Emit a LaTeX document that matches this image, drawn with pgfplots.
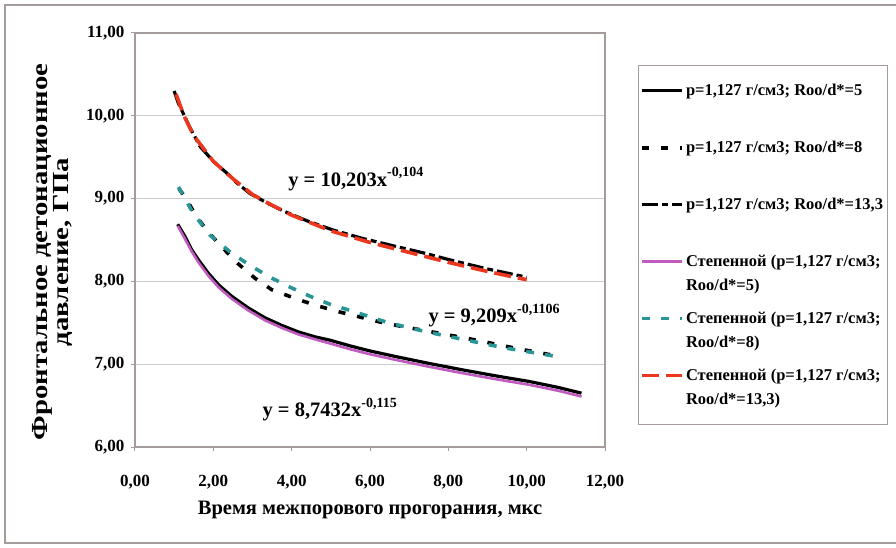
\documentclass[border=0pt]{standalone}
\usepackage{fontspec}
\setmainfont{Liberation Serif}
\usepackage{pgfplots}
\pgfplotsset{compat=1.18}
\definecolor{gridc}{RGB}{205,205,205}
\definecolor{axc}{RGB}{165,155,155}
\definecolor{magc}{RGB}{192,92,192}
\definecolor{tealc}{RGB}{40,150,150}
\definecolor{redc}{RGB}{235,55,30}
\newcommand\sups[1]{\raisebox{0.45em}{\fontsize{14bp}{14bp}\selectfont #1}}
\begin{document}
\begin{tikzpicture}
\useasboundingbox (-135bp,-101bp) rectangle (761bp,447bp);
\draw[axc, line width=1.5bp] (-130bp,-96bp) rectangle (775bp,442bp);
\begin{axis}[
  scale only axis, width=470bp, height=414bp,
  xmin=0, xmax=12, ymin=6, ymax=11,
  xtick={0,2,...,12}, ytick={6,7,...,11},
  xtick pos=left, ytick pos=left,
  axis line style={axc, line width=1.2bp},
  ymajorgrids, grid style={gridc, line width=1bp},
  tick style={axc, line width=1bp}, tick align=outside, major tick length=4bp,
  /pgf/number format/.cd, fixed, fixed zerofill, precision=2, use comma, assume math mode=true,
  /pgfplots/.cd,
  tick label style={font=\fontsize{17bp}{20bp}\selectfont\bfseries},
  xticklabel style={yshift=-21bp},
  yticklabel style={xshift=-3bp},
  xlabel={Время межпорового прогорания, мкс},
  xlabel style={font=\fontsize{20.5bp}{24bp}\selectfont\bfseries, at={(axis description cs:0.5,-0.153)}, anchor=center},
  ylabel={\scalebox{1.25}[1]{\begin{tabular}{@{}c@{}}Фронтальное детонационное\\[-4bp]давление, ГПа\end{tabular}}},
  ylabel style={font=\fontsize{23bp}{25bp}\selectfont\bfseries, at={(axis description cs:-0.174,0.471)}, anchor=center, rotate=0},
  legend cell align=left,
  legend image code/.code={\draw[#1] (0bp,12bp) -- (40bp,12bp);},
  legend style={at={(1.070,0.923)}, anchor=north west, draw=axc, line width=1bp, fill=white,
    font=\fontsize{16.5bp}{24bp}\selectfont\bfseries, row sep=16bp, cells={align=left},
    inner xsep=2bp, inner ysep=17bp},
]
% Roo/d*=5 data
\addplot[black, line width=3.2bp] coordinates {
(1.09,8.69)(1.28,8.54)(1.45,8.38)(1.62,8.26)(1.87,8.10)(2.13,7.96)(2.47,7.82)(2.89,7.68)(3.32,7.56)(3.74,7.47)(4.17,7.39)(4.60,7.33)(4.98,7.29)(5.50,7.22)(6.00,7.16)(6.68,7.09)(7.50,7.01)(8.38,6.93)(9.20,6.86)(10.08,6.79)(10.80,6.72)(11.40,6.65)};
% Roo/d*=8 data
\addplot[black, line width=3.6bp, dash pattern=on 7bp off 12bp] coordinates {
(1.12,9.12)(1.28,9.02)(1.57,8.78)(1.90,8.58)(2.21,8.42)(2.64,8.21)(3.06,8.04)(3.49,7.90)(4.17,7.78)(4.70,7.70)(5.23,7.63)(5.74,7.57)(6.25,7.51)(6.77,7.46)(7.70,7.38)(8.72,7.29)(9.74,7.19)(10.77,7.10)};
% Roo/d*=13,3 data
\addplot[black, line width=3.2bp, dash pattern=on 16bp off 4bp on 6bp off 4bp] coordinates {
(1.00,10.30)(1.10,10.16)(1.23,10.03)(1.40,9.86)(1.66,9.63)(2.00,9.45)(2.34,9.31)(2.60,9.19)(2.94,9.06)(3.40,8.94)(3.79,8.85)(4.40,8.73)(5.06,8.62)(5.80,8.52)(6.68,8.42)(7.40,8.34)(8.04,8.26)(9.00,8.15)(9.91,8.06)(10.00,8.05)};
% power fits
\addplot[magc, line width=2.6bp] coordinates {
(1.09,8.67)(1.28,8.51)(1.45,8.36)(1.62,8.23)(1.87,8.07)(2.13,7.93)(2.47,7.79)(2.89,7.65)(3.32,7.53)(3.74,7.44)(4.17,7.36)(4.60,7.30)(4.98,7.25)(5.50,7.18)(6.00,7.12)(6.68,7.05)(7.50,6.97)(8.38,6.89)(9.20,6.82)(10.08,6.75)(10.80,6.68)(11.40,6.61)};
\addplot[tealc, line width=3.6bp, dash pattern=on 8bp off 11bp] coordinates {
(1.11,9.14)(1.49,8.82)(1.91,8.56)(2.47,8.34)(2.98,8.18)(3.49,8.04)(3.96,7.93)(4.47,7.82)(5.00,7.72)(5.49,7.65)(6.47,7.50)(7.45,7.39)(8.47,7.29)(9.40,7.20)(10.42,7.12)(10.80,7.09)};
\addplot[redc, line width=3.6bp, dash pattern=on 17bp off 7bp] coordinates {
(1.05,10.26)(1.25,10.00)(1.5,9.76)(2.0,9.45)(2.5,9.24)(3.0,9.05)(3.5,8.92)(4.0,8.80)(5.0,8.61)(6.0,8.47)(7.0,8.35)(8.0,8.23)(9.0,8.12)(10.0,8.02)};
\legend{{p=1,127 г/см3; Roo/d*=5\\\mbox{}},
{p=1,127 г/см3; Roo/d*=8\\\mbox{}},
{p=1,127 г/см3; Roo/d*=13,3\\\mbox{}},
{Степенной (p=1,127 г/см3;\\Roo/d*=5)},
{Степенной (p=1,127 г/см3;\\Roo/d*=8)},
{Степенной (p=1,127 г/см3;\\Roo/d*=13,3)}}
\node[font=\fontsize{20.5bp}{22bp}\selectfont\bfseries, anchor=base west, inner sep=0pt] at (axis cs:3.91,9.15) {y = 10,203x\sups{-0,104}};
\node[font=\fontsize{20.5bp}{22bp}\selectfont\bfseries, anchor=base west, inner sep=0pt] at (axis cs:7.49,7.50) {y = 9,209x\sups{-0,1106}};
\node[font=\fontsize{20.5bp}{22bp}\selectfont\bfseries, anchor=base east, inner sep=0pt] at (axis cs:6.69,6.37) {y = 8,7432x\sups{-0,115}};
\end{axis}
\end{tikzpicture}
\end{document}
